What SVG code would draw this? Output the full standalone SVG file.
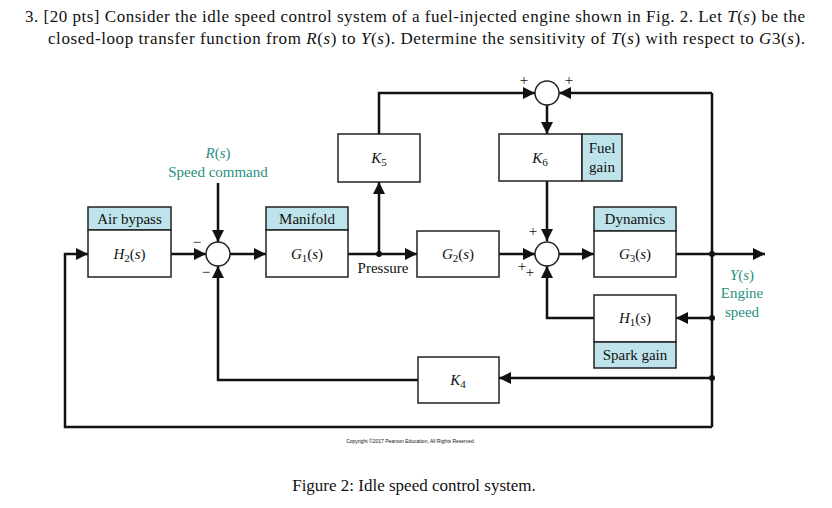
<svg xmlns="http://www.w3.org/2000/svg" width="832" height="508" viewBox="0 0 832 508">
<defs>
<marker id="a" viewBox="0 0 10 10" refX="10" refY="5" markerWidth="12" markerHeight="12" markerUnits="userSpaceOnUse" orient="auto"><path d="M0,0 L10,5 L0,10 z" fill="#111"/></marker>
</defs>
<style>
text{font-family:"Liberation Serif",serif;fill:#111}
.t{font-size:17px}
.b{fill:#fff;stroke:#222;stroke-width:1.5}
.h{fill:#bfe3ea;stroke:#222;stroke-width:1.5}
.l{font-size:15px;text-anchor:middle}
.m{font-size:15px;text-anchor:middle;font-style:italic}
.g{fill:#2a9080}
.c path,.c line{stroke:#111;stroke-width:2.5;fill:none}
.s{fill:#fff;stroke:#222;stroke-width:1.5}
.p{font-size:12px}
</style>
<rect width="832" height="508" fill="#fff"/>
<text class="t" x="25" y="22" textLength="780">3. [20 pts] Consider the idle speed control system of a fuel-injected engine shown in Fig. 2. Let <tspan font-style="italic">T</tspan>(<tspan font-style="italic">s</tspan>) be the</text>
<text class="t" x="48" y="44" textLength="757">closed-loop transfer function from <tspan font-style="italic">R</tspan>(<tspan font-style="italic">s</tspan>) to <tspan font-style="italic">Y</tspan>(<tspan font-style="italic">s</tspan>). Determine the sensitivity of <tspan font-style="italic">T</tspan>(<tspan font-style="italic">s</tspan>) with respect to <tspan font-style="italic">G</tspan>3(<tspan font-style="italic">s</tspan>).</text>
<g class="c">
<path d="M171,254 H206" marker-end="url(#a)"/>
<path d="M218,183 V242" marker-end="url(#a)"/>
<path d="M230,254 H266" marker-end="url(#a)"/>
<path d="M348,254 H417" marker-end="url(#a)"/>
<path d="M379,254 V182" marker-end="url(#a)"/>
<path d="M379,134 V93 H535" marker-end="url(#a)"/>
<path d="M712,93 H559" marker-end="url(#a)"/>
<path d="M547,105 V134" marker-end="url(#a)"/>
<path d="M547,181 V241" marker-end="url(#a)"/>
<path d="M499,254 H535" marker-end="url(#a)"/>
<path d="M559,254 H594" marker-end="url(#a)"/>
<path d="M676,254 H765" marker-end="url(#a)"/>
<path d="M712,93 V427"/>
<path d="M712,318 H676" marker-end="url(#a)"/>
<path d="M594,318 H547 V266" marker-end="url(#a)"/>
<path d="M712,378 H499" marker-end="url(#a)"/>
<path d="M418,380 H218 V266" marker-end="url(#a)"/>
<path d="M712,427 H65 V254 H88" marker-end="url(#a)"/>
</g>
<g fill="#111"><circle cx="379" cy="254" r="3"/><circle cx="712" cy="254" r="3"/><circle cx="712" cy="318" r="3"/><circle cx="712" cy="378" r="3"/></g>
<g id="sum1"><circle class="s" cx="218" cy="254" r="12"/><text class="l" x="197" y="247">−</text><text class="l" x="206" y="277">−</text></g>
<g id="sum2"><circle class="s" cx="547" cy="93" r="12"/><text class="l" x="524" y="85">+</text><text class="l" x="569" y="85">+</text></g>
<g id="sum3"><circle class="s" cx="547" cy="254" r="12"/><text class="l" x="533" y="236">+</text><text class="l" x="522" y="271">+</text><text class="l" x="530" y="277">+</text></g>
<g id="h2"><rect class="h" x="88" y="207" width="83" height="23"/><rect class="b" x="88" y="230" width="83" height="47"/><text class="l" x="129.5" y="224">Air bypass</text><text class="l" x="129.5" y="259"><tspan font-style="italic">H</tspan><tspan font-size="11" dy="3">2</tspan><tspan dy="-3">(</tspan><tspan font-style="italic">s</tspan>)</text></g>
<g id="g1"><rect class="h" x="266" y="207" width="82" height="23"/><rect class="b" x="266" y="230" width="82" height="47"/><text class="l" x="307" y="224">Manifold</text><text class="l" x="307" y="259"><tspan font-style="italic">G</tspan><tspan font-size="11" dy="3">1</tspan><tspan dy="-3">(</tspan><tspan font-style="italic">s</tspan>)</text></g>
<g id="k5"><rect class="b" x="338" y="134" width="82" height="48"/><text class="l" x="379" y="163"><tspan font-style="italic">K</tspan><tspan font-size="11" dy="3">5</tspan></text></g>
<g id="g2"><rect class="b" x="417" y="231" width="82" height="46"/><text class="l" x="458" y="259"><tspan font-style="italic">G</tspan><tspan font-size="11" dy="3">2</tspan><tspan dy="-3">(</tspan><tspan font-style="italic">s</tspan>)</text></g>
<text class="l" x="383" y="273">Pressure</text>
<g id="k6"><rect class="b" x="499" y="134" width="83" height="47"/><rect class="h" x="582" y="134" width="40" height="47"/><text class="l" x="540" y="163"><tspan font-style="italic">K</tspan><tspan font-size="11" dy="3">6</tspan></text><text class="l" x="602" y="153">Fuel</text><text class="l" x="602" y="172">gain</text></g>
<g id="g3"><rect class="h" x="594" y="207" width="82" height="24"/><rect class="b" x="594" y="231" width="82" height="46"/><text class="l" x="635" y="224">Dynamics</text><text class="l" x="635" y="259"><tspan font-style="italic">G</tspan><tspan font-size="11" dy="3">3</tspan><tspan dy="-3">(</tspan><tspan font-style="italic">s</tspan>)</text></g>
<g id="h1"><rect class="b" x="594" y="295" width="82" height="47"/><rect class="h" x="594" y="342" width="82" height="26"/><text class="l" x="635" y="323"><tspan font-style="italic">H</tspan><tspan font-size="11" dy="3">1</tspan><tspan dy="-3">(</tspan><tspan font-style="italic">s</tspan>)</text><text class="l" x="635" y="360">Spark gain</text></g>
<g id="k4"><rect class="b" x="418" y="357" width="81" height="46"/><text class="l" x="458" y="385"><tspan font-style="italic">K</tspan><tspan font-size="11" dy="3">4</tspan></text></g>
<text class="l g" x="218" y="158"><tspan font-style="italic" class="g">R</tspan>(<tspan font-style="italic" class="g">s</tspan>)</text>
<text class="l g" x="218" y="177">Speed command</text>
<text class="l g" x="742" y="280"><tspan font-style="italic" class="g">Y</tspan>(<tspan font-style="italic" class="g">s</tspan>)</text>
<text class="l g" x="742" y="298">Engine</text>
<text class="l g" x="742" y="317">speed</text>
<text x="410" y="443" text-anchor="middle" font-size="5" style="font-family:'Liberation Sans',sans-serif">Copyright ©2017 Pearson Education, All Rights Reserved</text>
<text class="t" x="414" y="491" text-anchor="middle">Figure 2: Idle speed control system.</text>
</svg>
